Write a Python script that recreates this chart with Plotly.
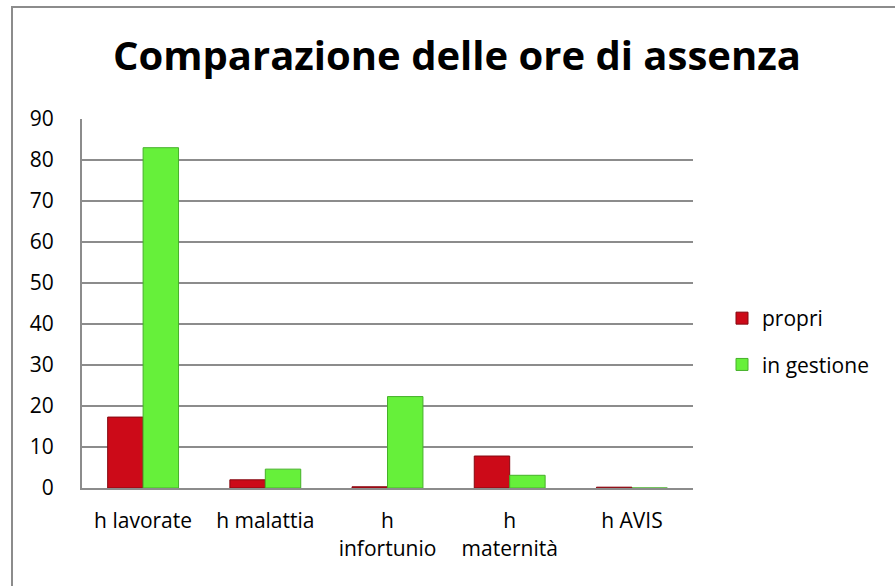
import plotly.graph_objects as go

categories = ["h lavorate", "h malattia", "h<br>infortunio", "h<br>maternità", "h AVIS"]
propri = [17.3, 2.0, 0.3, 7.8, 0.2]
in_gestione = [83.0, 4.6, 22.3, 3.1, 0.0]
y_ticks = [0, 10, 20, 30, 40, 50, 60, 70, 80, 90]

FONT = "Open Sans"

fig = go.Figure()
fig.add_trace(go.Bar(
    x=categories, y=propri, name="propri", legendgroup="a",
    marker=dict(color="#CC0A18", line=dict(color="#850810", width=1)),
))
fig.add_trace(go.Bar(
    x=categories, y=in_gestione, name="in gestione", legendgroup="b",
    marker=dict(color="#66F03A", line=dict(color="#46B02A", width=1)),
))

L, R, T, B = 82, 202, 119, 98
W, H = 895, 586
pw, ph = W - L - R, H - T - B

def px_x(p):
    return (p - L) / pw

def px_y(p):
    return (H - B - p) / ph

fig.update_layout(
    width=W, height=H,
    margin=dict(l=L, r=R, t=T, b=B),
    paper_bgcolor="white", plot_bgcolor="white",
    font=dict(family=FONT, size=21, color="#000000"),
    barmode="group", bargap=0.42, bargroupgap=0,
    showlegend=True,
    legend=dict(
        x=px_x(722), y=px_y(298), xanchor="left", yanchor="top",
        font=dict(family=FONT, size=21), tracegroupgap=16,
        traceorder="grouped", itemwidth=30,
    ),
    xaxis=dict(
        showgrid=False, showline=True, linecolor="#8C8C8C", linewidth=2,
        ticks="", tickfont=dict(family=FONT, size=21), ticklabelstandoff=13,
    ),
    yaxis=dict(
        range=[0, 90], tickvals=y_ticks, showgrid=True, gridcolor="#8C8C8C",
        gridwidth=1.5, showline=True, linecolor="#8C8C8C", linewidth=2,
        zeroline=False, ticks="", tickfont=dict(family=FONT, size=21),
        ticklabelstandoff=22,
    ),
    annotations=[dict(
        text="<b>Comparazione delle ore di assenza</b>", xref="paper", yref="paper",
        x=px_x(457), y=px_y(54), xanchor="center", yanchor="middle",
        showarrow=False, font=dict(family=FONT, size=40, color="#000000"),
    )],
    shapes=[dict(
        type="rect", xref="paper", yref="paper",
        x0=px_x(12), x1=px_x(1000), y0=px_y(700), y1=px_y(7),
        line=dict(color="#8C8C8C", width=2), fillcolor="rgba(0,0,0,0)", layer="below",
    )],
)

fig.write_html(
    "out.html",
    config={"displayModeBar": False},
    post_script="document.body.style.margin='0px';document.body.style.overflow='hidden';",
)
